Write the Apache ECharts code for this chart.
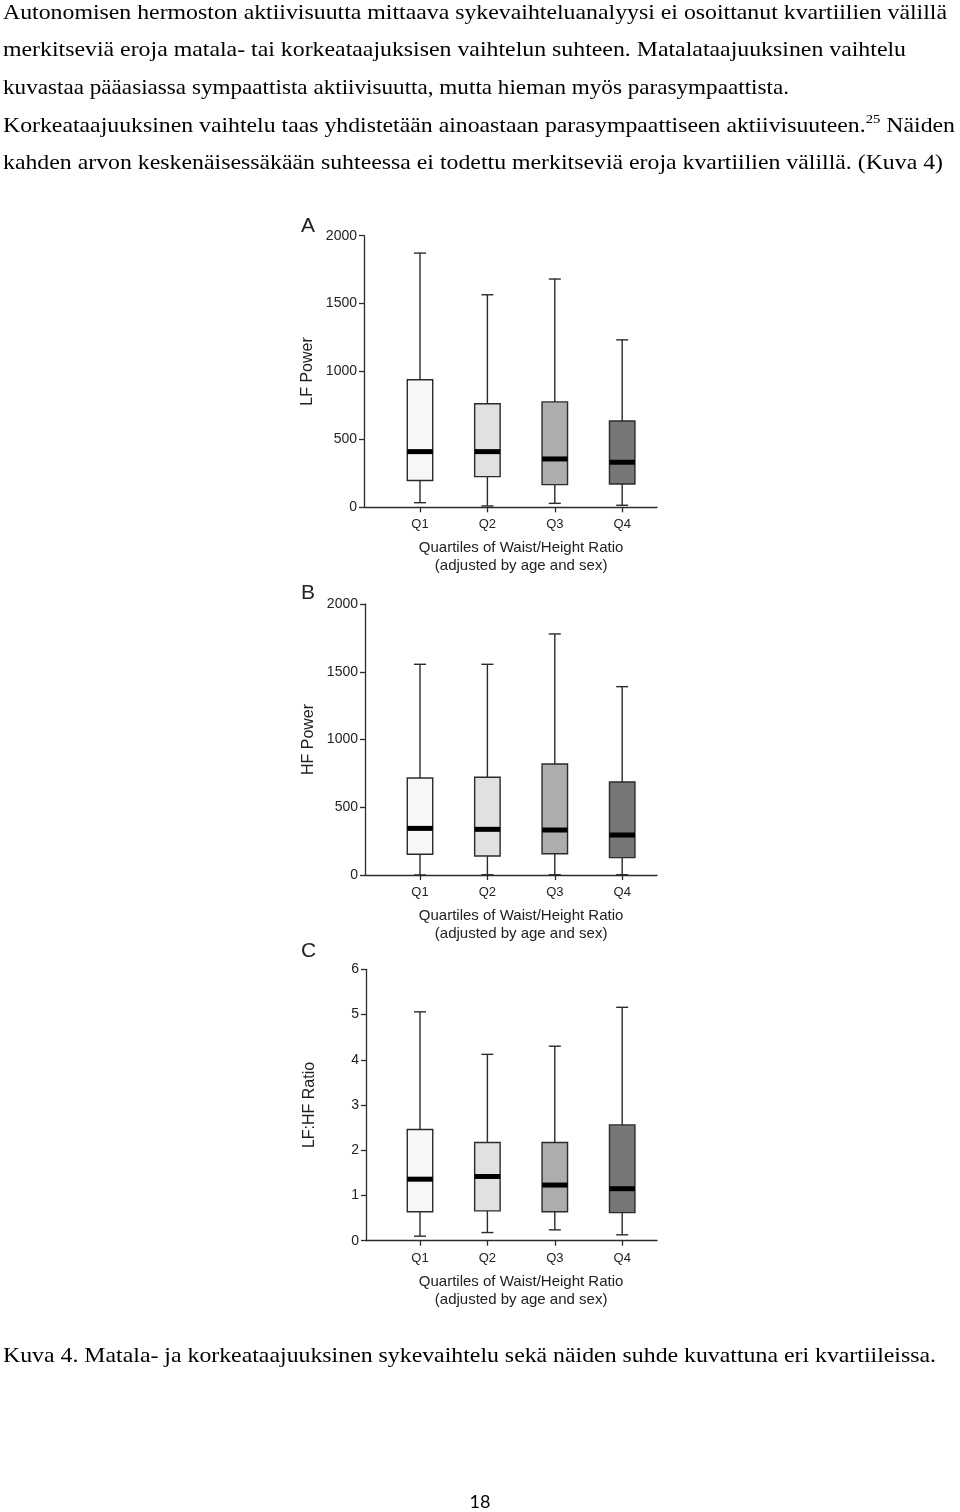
<!DOCTYPE html>
<html><head><meta charset="utf-8">
<script src="https://cdn.jsdelivr.net/npm/echarts@6/dist/echarts.min.js"></script>
<style>
html,body{margin:0;padding:0;background:#fff;}
#page{position:relative;width:960px;height:1512px;overflow:hidden;background:#fff;}
#chart{position:absolute;left:0;top:0;width:960px;height:1512px;}
.ln{position:absolute;left:3px;white-space:nowrap;font-family:'Liberation Serif','Times New Roman',serif;font-size:21px;line-height:21px;color:#000;transform-origin:0 0;}
.ln sup{font-size:13px;line-height:0;vertical-align:0;position:relative;top:-9px;}
#pg{position:absolute;left:0;top:1490px;width:960px;text-align:center;font-family:Lato,'Open Sans',sans-serif;font-size:18px;line-height:22px;color:#000;}
</style></head>
<body><div id="page"><div id="chart"></div>
<div class="ln" data-r="947" style="top:1.7px">Autonomisen hermoston aktiivisuutta mittaava sykevaihteluanalyysi ei osoittanut kvartiilien välillä</div>
<div class="ln" data-r="906" style="top:39.3px">merkitseviä eroja matala- tai korkeataajuksisen vaihtelun suhteen. Matalataajuuksinen vaihtelu</div>
<div class="ln" data-r="789" style="top:76.9px">kuvastaa pääasiassa sympaattista aktiivisuutta, mutta hieman myös parasympaattista.</div>
<div class="ln" data-r="955" style="top:114.5px">Korkeataajuuksinen vaihtelu taas yhdistetään ainoastaan parasympaattiseen aktiivisuuteen.<sup>25</sup> Näiden</div>
<div class="ln" data-r="943" style="top:152.1px">kahden arvon keskenäisessäkään suhteessa ei todettu merkitseviä eroja kvartiilien välillä. (Kuva 4)</div>
<div class="ln" data-r="936" style="top:1344.5px">Kuva 4. Matala- ja korkeataajuuksinen sykevaihtelu sekä näiden suhde kuvattuna eri kvartiileissa.</div>
<div id="pg">18</div>
</div>
<script>
// ---- data ----
const categories = ['Q1', 'Q2', 'Q3', 'Q4'];
// each item: [min, Q1, median, Q3, max]
const lfPower = [[34, 197, 410, 939, 1872], [10, 226, 410, 762, 1565], [29, 167, 356, 776, 1681], [15, 172, 332, 636, 1233]];
const hfPower = [[0, 153, 344, 716, 1555], [2, 140, 337, 721, 1555], [2, 157, 332, 819, 1779], [2, 128, 295, 686, 1390]];
const lfhfRatio = [[0.10, 0.64, 1.36, 2.46, 5.06], [0.18, 0.66, 1.42, 2.17, 4.12], [0.24, 0.64, 1.23, 2.17, 4.30], [0.13, 0.62, 1.15, 2.56, 5.16]];
const powerTicks = [0, 2000, 500];
const ratioTicks = [0, 6, 1];
const xTitle = 'Quartiles of Waist/Height Ratio\n(adjusted by age and sex)';
const panelLetters = ['A', 'B', 'C'];
const yNames = ['LF Power', 'HF Power', 'LF:HF Ratio'];

// ---- styles / layout ----
const boxFills = ['#f7f7f7', '#e1e1e1', '#adadad', '#777777'];
const ink = '#2b2b2b';
const FONT = "'Liberation Sans', Arial, sans-serif";
const layout = [
  { top: 235.7, bottom: 507.3, axisX: 364, letterY: 228 },
  { top: 604, bottom: 875, axisX: 365, letterY: 594.5 },
  { top: 969.3, bottom: 1240.7, axisX: 366, letterY: 952.5 }
];
const plotLeft = 386.3, plotWidth = 269.6, frameRight = 657;

const panelData = [lfPower, hfPower, lfhfRatio];
const panelTicks = [powerTicks, powerTicks, ratioTicks];

function renderBox(params, api) {
  const idx = api.value(0);
  const pMin = api.coord([idx, api.value(1)]);
  const pQ1 = api.coord([idx, api.value(2)]);
  const pMed = api.coord([idx, api.value(3)]);
  const pQ3 = api.coord([idx, api.value(4)]);
  const pMax = api.coord([idx, api.value(5)]);
  const band = api.size([1, 0])[0];
  const bw = band * 0.378, cw = band * 0.178;
  const cx = pMin[0];
  const st = { stroke: ink, lineWidth: 1.4, fill: null };
  return {
    type: 'group',
    children: [
      { type: 'line', shape: { x1: cx, y1: pMax[1], x2: cx, y2: pQ3[1] }, style: st },
      { type: 'line', shape: { x1: cx, y1: pQ1[1], x2: cx, y2: pMin[1] }, style: st },
      { type: 'line', shape: { x1: cx - cw / 2, y1: pMax[1], x2: cx + cw / 2, y2: pMax[1] }, style: st },
      { type: 'line', shape: { x1: cx - cw / 2, y1: pMin[1], x2: cx + cw / 2, y2: pMin[1] }, style: st },
      { type: 'rect', shape: { x: cx - bw / 2, y: pQ3[1], width: bw, height: pQ1[1] - pQ3[1] },
        style: { fill: boxFills[params.dataIndex], stroke: ink, lineWidth: 1.4 } },
      { type: 'line', shape: { x1: cx - bw / 2, y1: pMed[1], x2: cx + bw / 2, y2: pMed[1] },
        style: { stroke: '#000', lineWidth: 5 } }
    ]
  };
}

const grid = [], xAxis = [], yAxis = [], series = [], graphic = [];
layout.forEach((L, i) => {
  const [mn, mx, iv] = panelTicks[i];
  const h = L.bottom - L.top;
  grid.push({ left: L.axisX, top: L.top, width: frameRight - L.axisX, height: h });
  grid.push({ left: plotLeft, top: L.top, width: plotWidth, height: h });
  const lineStyle = { color: ink, width: 1.3 };
  xAxis.push({ gridIndex: 2 * i, type: 'value', min: 0, max: 1, axisLine: { show: true, lineStyle },
    axisTick: { show: false }, axisLabel: { show: false }, splitLine: { show: false } });
  xAxis.push({ gridIndex: 2 * i + 1, type: 'category', data: categories, boundaryGap: true,
    axisLine: { show: false }, axisTick: { show: true, alignWithLabel: true, length: 5, lineStyle },
    axisLabel: { fontSize: 13, color: '#222', margin: 11, fontFamily: FONT },
    name: xTitle, nameLocation: 'middle', nameGap: 32,
    nameTextStyle: { fontSize: 15, lineHeight: 18, color: '#222', fontFamily: FONT } });
  yAxis.push({ gridIndex: 2 * i, type: 'value', min: mn, max: mx, interval: iv,
    axisLine: { show: true, lineStyle }, axisTick: { show: true, length: 5, lineStyle },
    axisLabel: { fontSize: 14, color: '#222', margin: 7, fontFamily: FONT, formatter: v => String(v) },
    splitLine: { show: false },
    name: yNames[i], nameLocation: 'middle', nameGap: 48, nameRotate: 90,
    nameTextStyle: { fontSize: 16, color: '#222', fontFamily: FONT } });
  yAxis.push({ gridIndex: 2 * i + 1, type: 'value', min: mn, max: mx, show: false });
  series.push({ type: 'custom', xAxisIndex: 2 * i + 1, yAxisIndex: 2 * i + 1,
    data: panelData[i].map((v, j) => [j].concat(v)),
    encode: { x: 0, y: [1, 2, 3, 4, 5] }, renderItem: renderBox, silent: true });
  graphic.push({ type: 'text', left: 301, top: L.letterY - 12,
    style: { text: panelLetters[i], fontSize: 21, fill: '#222', font: '21px ' + FONT } });
});

const chart = echarts.init(document.getElementById('chart'), null, { renderer: 'canvas' });
chart.setOption({ animation: false, backgroundColor: 'transparent', textStyle: { fontFamily: FONT },
  grid, xAxis, yAxis, series, graphic });

document.querySelectorAll('.ln').forEach(el => {
  const w = el.getBoundingClientRect().width;
  const target = parseFloat(el.dataset.r) - 3;
  el.style.transform = 'scaleX(' + (target / w) + ')';
});
</script>
</body></html>
